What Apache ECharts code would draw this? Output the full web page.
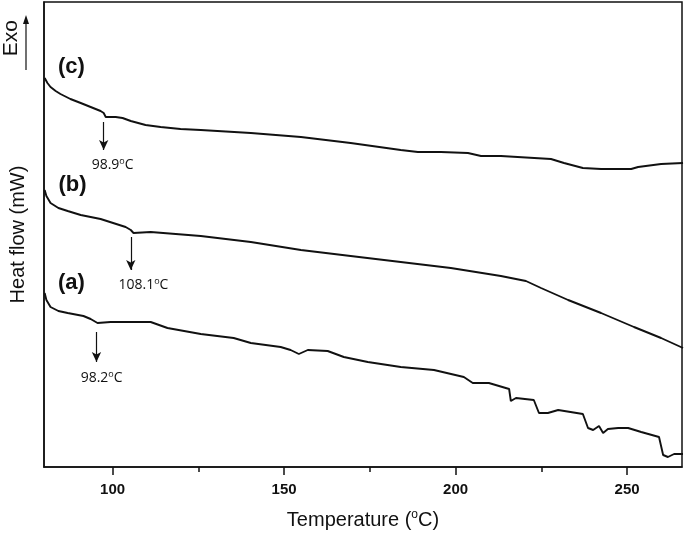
<!DOCTYPE html>
<html>
<head>
<meta charset="utf-8">
<script src="https://cdn.jsdelivr.net/npm/echarts@6/dist/echarts.min.js"></script>
<style>
  html, body { margin: 0; padding: 0; background: #fff; }
  #main { width: 685px; height: 543px; }
</style>
</head>
<body>
<div id="main"></div>
<script>
// DSC curves, heat flow in arbitrary offset units
const tempC = [80.2, 81.0, 81.9, 83.4, 84.8, 87.7, 90.7, 93.6, 96.5, 97.4, 98.0, 100.9, 102.9, 105.3, 109.6, 114.0, 119.8, 125.7, 140.3, 154.9, 169.4, 184.0, 189.0, 195.7, 203.6, 207.4, 213.2, 227.8, 231.6, 237.1, 242.4, 251.2, 253.2, 259.9, 266.3]
const flowC = [3.89, 3.84, 3.80, 3.76, 3.73, 3.68, 3.64, 3.60, 3.56, 3.54, 3.50, 3.50, 3.49, 3.46, 3.42, 3.40, 3.38, 3.37, 3.34, 3.30, 3.24, 3.17, 3.15, 3.15, 3.14, 3.11, 3.11, 3.08, 3.04, 2.99, 2.98, 2.98, 3.00, 3.03, 3.04]

const tempB = [80.2, 80.7, 81.9, 84.2, 86.9, 90.7, 96.5, 103.8, 105.3, 106.1, 111.1, 125.7, 140.3, 154.9, 169.4, 184.0, 198.6, 213.2, 220.5, 224.9, 232.8, 242.4, 252.0, 259.9, 266.3]
const flowB = [2.77, 2.71, 2.64, 2.59, 2.56, 2.52, 2.48, 2.40, 2.37, 2.34, 2.35, 2.31, 2.25, 2.17, 2.11, 2.05, 1.99, 1.91, 1.86, 1.79, 1.67, 1.54, 1.40, 1.29, 1.19]

const tempA = [80.2, 80.7, 81.9, 84.2, 86.9, 91.5, 93.6, 95.6, 99.4, 105.3, 111.1, 116.0, 125.7, 135.3, 140.3, 149.0, 151.9, 154.3, 156.9, 162.7, 167.4, 174.4, 184.0, 193.7, 202.4, 205.0, 209.7, 215.6, 216.1, 217.6, 222.8, 224.3, 226.9, 229.9, 237.1, 238.6, 240.1, 241.8, 243.0, 244.4, 247.4, 250.3, 254.1, 259.3, 260.5, 261.9, 263.7, 266.3]
const flowA = [1.74, 1.67, 1.60, 1.56, 1.54, 1.51, 1.48, 1.44, 1.45, 1.45, 1.45, 1.39, 1.33, 1.29, 1.24, 1.20, 1.17, 1.13, 1.17, 1.16, 1.10, 1.05, 1.00, 0.97, 0.90, 0.84, 0.84, 0.78, 0.66, 0.69, 0.67, 0.54, 0.54, 0.57, 0.53, 0.39, 0.37, 0.41, 0.34, 0.38, 0.39, 0.39, 0.35, 0.30, 0.12, 0.10, 0.13, 0.13]

const majorTicks = [100, 150, 200, 250]
const minorTicks = [125, 175, 225]

// transition annotations: [arrow x, arrow top, arrow tip, label x, label y, text]
const noteC = [97.4, 3.45, 3.17, 100.0, 3.02, '98.9']
const noteB = [105.3, 2.30, 1.97, 109.0, 1.82, '108.1']
const noteA = [95.3, 1.35, 1.05, 96.8, 0.89, '98.2']
// curve tags: [x, y, text]
const tagC = [88, 4.00, '(c)']
const tagB = [88.3, 2.82, '(b)']
const tagA = [88, 1.84, '(a)']

const chart = echarts.init(document.getElementById('main'))

function pairs (xs, ys) {
  return xs.map((x, i) => [x, ys[i]])
}

function curve (name, xs, ys, note, tag) {
  return {
    name: name,
    type: 'line',
    data: pairs(xs, ys),
    showSymbol: false,
    smooth: false,
    lineStyle: { color: '#111', width: 1.9 },
    animation: false,
    markLine: {
      silent: true,
      symbol: ['none', 'arrow'],
      symbolSize: [7, 10],
      label: { show: false },
      lineStyle: { color: '#111', width: 1.2, type: 'solid' },
      data: [[{ coord: [note[0], note[1]] }, { coord: [note[0], note[2]] }]]
    },
    markPoint: {
      silent: true,
      symbol: 'circle',
      symbolSize: 0,
      data: [
        {
          coord: [note[3], note[4]],
          label: {
            show: true,
            position: 'inside',
            formatter: note[5] + '{s|o}C',
            fontFamily: 'Open Sans',
            fontSize: 14,
            color: '#111',
            rich: { s: { fontSize: 9, verticalAlign: 'top', padding: [0, 0, 8, 0], fontFamily: 'Open Sans', color: '#111' } }
          }
        },
        {
          coord: [tag[0], tag[1]],
          label: {
            show: true,
            position: 'inside',
            formatter: tag[2],
            fontFamily: 'Liberation Sans',
            fontWeight: 'bold',
            fontSize: 22,
            color: '#111'
          }
        }
      ]
    }
  }
}

chart.setOption({
  animation: false,
  backgroundColor: '#fff',
  grid: {
    left: 44,
    right: 3,
    top: 2,
    bottom: 76,
    show: true,
    borderColor: '#111',
    borderWidth: 1.5
  },
  xAxis: [
    {
      type: 'value',
      min: 80,
      max: 266,
      name: 'Temperature ({s|o}C)',
      nameLocation: 'middle',
      nameGap: 42,
      nameTextStyle: {
        fontFamily: 'Liberation Sans',
        fontSize: 20,
        color: '#111',
        rich: { s: { fontSize: 12, verticalAlign: 'top', padding: [0, 0, 10, 0], fontFamily: 'Liberation Sans', color: '#111' } }
      },
      axisLine: { show: true, lineStyle: { color: '#111', width: 1.5 } },
      axisTick: { show: true, length: 8, customValues: majorTicks, lineStyle: { color: '#111', width: 1.5 } },
      axisLabel: {
        customValues: majorTicks,
        margin: 15,
        fontFamily: 'Liberation Sans',
        fontWeight: 'bold',
        fontSize: 15,
        color: '#111'
      },
      splitLine: { show: false }
    },
    {
      type: 'value',
      min: 80,
      max: 266,
      position: 'bottom',
      axisLine: { show: false },
      axisTick: { show: true, length: 5, customValues: minorTicks, lineStyle: { color: '#111', width: 1.5 } },
      axisLabel: { show: false },
      splitLine: { show: false }
    }
  ],
  yAxis: {
    type: 'value',
    min: 0,
    max: 4.65,
    name: 'Heat flow (mW)',
    nameLocation: 'middle',
    nameGap: 16,
    nameTextStyle: { fontFamily: 'Liberation Sans', fontSize: 20, color: '#111' },
    axisLine: { show: true, lineStyle: { color: '#111', width: 1.5 } },
    axisTick: { show: false },
    axisLabel: { show: false },
    splitLine: { show: false }
  },
  graphic: [
    {
      type: 'text',
      left: 1,
      top: 20,
      rotation: Math.PI / 2,
      style: { text: 'Exo', fontFamily: 'Liberation Sans', fontSize: 21, fill: '#111' }
    },
    {
      type: 'line',
      shape: { x1: 26, y1: 70, x2: 26, y2: 22 },
      style: { stroke: '#111', lineWidth: 1.2 }
    },
    {
      type: 'polygon',
      shape: { points: [[26, 15], [23, 24], [29, 24]] },
      style: { fill: '#111' }
    }
  ],
  series: [
    curve('c', tempC, flowC, noteC, tagC),
    curve('b', tempB, flowB, noteB, tagB),
    curve('a', tempA, flowA, noteA, tagA)
  ]
})
</script>
</body>
</html>
